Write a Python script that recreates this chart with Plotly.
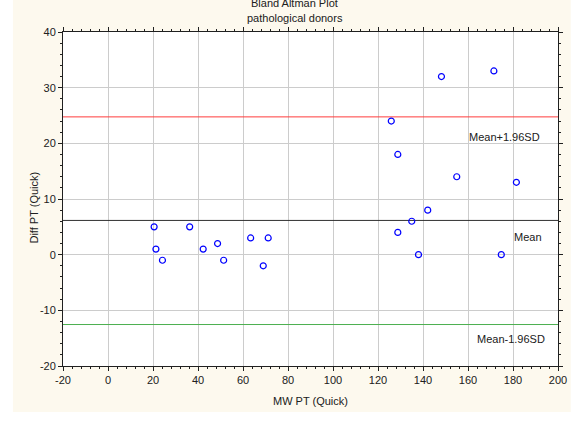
import plotly.graph_objects as go

# Data
mw_pt = [20.5, 36.3, 21.3, 24.2, 42.3, 48.7, 51.4, 63.4, 71.2, 69.0,
         148.2, 171.5, 125.9, 128.8, 155.0, 181.5, 142.1, 135.0, 128.8, 138.0, 174.8]
diff_pt = [5, 5, 1, -1, 1, 2, -1, 3, 3, -2,
           32, 33, 24, 18, 14, 13, 8, 6, 4, 0, 0]

mean_val = 6.15
upper_val = 24.75
lower_val = -12.55

line_labels = ["Mean+1.96SD", "Mean", "Mean-1.96SD"]
label_x = [159.5, 179.5, 163.0]
label_y = [21.1, 3.2, -15.1]

x_ticks = [-20, 0, 20, 40, 60, 80, 100, 120, 140, 160, 180, 200]
x_ticktext = ["-20", "0", "20", "40", "60", "80", "100", "120", "140", "160", "180", "200"]
y_ticks = [-20, -10, 0, 10, 20, 30, 40]
y_ticktext = ["-20", "-10", "0", "10", "20", "30", "40"]

FONT = "Liberation Sans, Arial, sans-serif"
CREAM = "#fdf9ee"

fig = go.Figure()

# Reference lines (drawn from values through the y axis)
for val, col in [(upper_val, "#ff3c3c"), (mean_val, "#303030"), (lower_val, "#4caf50")]:
    fig.add_trace(go.Scatter(
        x=[-20, 200], y=[val, val], mode="lines",
        line=dict(color=col, width=1), showlegend=False, hoverinfo="skip"))

fig.add_trace(go.Scatter(
    x=mw_pt, y=diff_pt, mode="markers",
    marker=dict(symbol="circle-open", size=6, color="#0000ff", line=dict(width=1.2, color="#0000ff")),
    showlegend=False, cliponaxis=False))

# Cream background behind everything, white plot area
fig.add_shape(type="rect", xref="paper", yref="paper",
              x0=(12 - 63) / 504, x1=(580 - 63) / 504,
              y0=(366 - 412) / 334, y1=(366 + 2) / 334,
              fillcolor=CREAM, line=dict(width=0), layer="below")
fig.add_shape(type="rect", xref="paper", yref="paper", x0=0, x1=1, y0=0, y1=1,
              fillcolor="white", line=dict(width=0), layer="below")

for txt, lx, ly in zip(line_labels, label_x, label_y):
    fig.add_annotation(x=lx, y=ly, xref="x", yref="y", text=txt, showarrow=False,
                       xanchor="left", yanchor="middle",
                       font=dict(family=FONT, size=11, color="#202020"))

fig.add_annotation(x=(299 - 63) / 504, y=(366 - 3) / 334, xref="paper", yref="paper",
                   text="Bland Altman Plot", showarrow=False, xanchor="center", yanchor="middle",
                   font=dict(family=FONT, size=11, color="#202020"))
fig.add_annotation(x=(299 - 63) / 504, y=(366 - 18) / 334, xref="paper", yref="paper",
                   text="pathological donors", showarrow=False, xanchor="center", yanchor="middle",
                   font=dict(family=FONT, size=11, color="#202020"))
fig.add_annotation(x=0.5, y=(366 - 401) / 334, xref="paper", yref="paper",
                   text="MW PT (Quick)", showarrow=False, xanchor="center", yanchor="middle",
                   font=dict(family=FONT, size=11, color="#202020"))
fig.add_annotation(x=(33 - 63) / 504, y=(366 - 208) / 334, xref="paper", yref="paper",
                   text="Diff PT (Quick)", showarrow=False, textangle=-90,
                   xanchor="center", yanchor="middle",
                   font=dict(family=FONT, size=11, color="#202020"))

axis_common = dict(
    showgrid=True, gridcolor="#cccccc", gridwidth=1,
    showline=True, linecolor="#202020", linewidth=1, mirror="ticks",
    ticks="outside", ticklen=4, tickcolor="#202020", tickwidth=1,
    zeroline=False, tickfont=dict(family=FONT, size=11, color="#202020"),
)

fig.update_xaxes(range=[-20, 200], tickvals=x_ticks, ticktext=x_ticktext,
                 minor=dict(dtick=4, ticks="outside", ticklen=2, tickcolor="#202020", showgrid=False),
                 **axis_common)
fig.update_yaxes(range=[-20, 40], tickvals=y_ticks, ticktext=y_ticktext,
                 minor=dict(dtick=2, ticks="outside", ticklen=2, tickcolor="#202020", showgrid=False),
                 **axis_common)

fig.update_layout(
    width=578, height=435,
    margin=dict(l=63, r=11, t=32, b=69),
    paper_bgcolor="white", plot_bgcolor="white",
    font=dict(family=FONT, size=11, color="#202020"),
    showlegend=False,
)

fig.write_html("out.html")
